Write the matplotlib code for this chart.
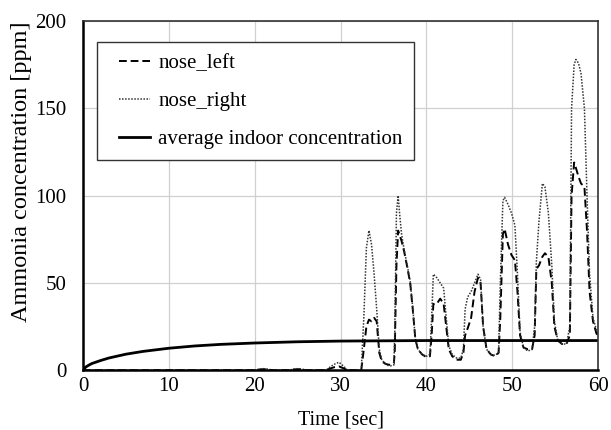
import numpy as np
import matplotlib.pyplot as plt
from matplotlib.legend_handler import HandlerLine2D

plt.rcParams['font.family'] = ['Liberation Serif', 'DejaVu Serif']

# average indoor concentration
t_avg = [0, 0.3, 0.7, 1, 2, 3, 5, 7, 10, 13, 16, 20, 25, 30, 40, 50, 60]
c_avg = [0, 1.8, 3.0, 3.8, 5.5, 7.0, 9.2, 10.8, 12.6, 13.9, 14.8, 15.6, 16.3, 16.7, 17.0, 17.0, 17.0]

# nose sensors (shared time axis)
t_nose = [0, 20, 20.5, 21, 21.5, 22, 24, 24.5, 25, 25.5, 26, 28.3, 28.8, 29.3, 29.8, 30.3, 30.8,
          32.4, 32.7, 33.0, 33.3, 33.6, 33.9, 34.2, 34.5, 34.8, 35.3, 35.8, 36.2,
          36.3, 36.5, 36.7, 36.9, 37.1, 37.4, 37.8, 38.1, 38.4, 38.7, 39.0, 39.5, 40.0, 40.4,
          40.6, 40.8, 41.2, 41.6, 42.0, 42.3, 42.6, 43.0, 43.5, 44.0, 44.3,
          44.5, 44.8, 45.2, 45.6, 46.0, 46.3, 46.6, 47.0, 47.5, 48.0, 48.4,
          48.6, 48.9, 49.1, 49.5, 49.9, 50.3, 50.6, 50.9, 51.3, 51.8, 52.3, 52.6,
          52.8, 53.1, 53.5, 53.8, 54.2, 54.6, 54.9, 55.3, 55.8, 56.3, 56.7,
          56.9, 57.2, 57.4, 57.7, 58.0, 58.4, 58.7, 59.0, 59.4, 59.8, 60]
nose_left = [0, 0, 0.4, 0.6, 0.5, 0, 0, 0.4, 0.6, 0.5, 0, 0, 1.0, 1.8, 2.2, 1.2, 0,
             0, 12, 25, 29, 28, 30, 28, 10, 5, 3.5, 3, 4,
             10, 60, 80, 77, 74, 68, 58, 50, 35, 18, 12, 9, 7.5, 8,
             20, 38, 38, 41, 38, 25, 12, 8, 6, 6, 10,
             20, 24, 30, 45, 53, 50, 25, 12, 9, 8, 10,
             30, 78, 81, 72, 66, 63, 45, 20, 13, 12, 12, 20,
             58, 60, 65, 67, 65, 50, 25, 17, 15, 15, 20,
             100, 119, 116, 111, 107, 105, 80, 45, 28, 21, 20]
nose_right = [0, 0, 0.6, 0.9, 0.7, 0, 0, 0.6, 0.9, 0.7, 0, 0, 2.0, 3.5, 4.6, 2.5, 0,
              0, 30, 70, 80, 72, 55, 35, 12, 6, 3, 2.5, 3,
              20, 90, 100, 88, 78, 69, 59, 51, 36, 18, 12, 9, 8, 9,
              30, 55, 53, 50, 47, 30, 14, 9, 7, 7, 12,
              35, 42, 45, 50, 55, 52, 25, 12, 9, 8.5, 10,
              50, 97, 99, 95, 90, 83, 55, 22, 13, 11, 12, 25,
              62, 85, 107, 105, 90, 60, 28, 17, 15, 15, 25,
              150, 175, 178, 176, 170, 150, 100, 55, 30, 23, 22]

fig = plt.figure(figsize=(6.11, 4.30), dpi=100)
ax = fig.add_axes([0.136, 0.139, 0.843, 0.812])

ax.plot(t_nose, nose_left, color='black', lw=1.4, ls=(0, (4, 2)), label='nose_left')
ax.plot(t_nose, nose_right, color='#333333', lw=1.1, ls=(0, (1, 1)), label='nose_right')
ax.plot(t_avg, c_avg, color='black', lw=2.0, label='average indoor concentration')

ax.set_xlim(0, 60)
ax.set_ylim(0, 200)
ax.set_xticks(range(0, 61, 10))
ax.set_yticks(range(0, 201, 50))
ax.grid(True, color='#d0d0d0', lw=0.9)
ax.set_axisbelow(True)
ax.tick_params(length=0, labelsize=15)
ax.tick_params(axis='x', pad=5)
ax.tick_params(axis='y', pad=12)
for s in ['top', 'right']:
    ax.spines[s].set_color('#333333')
    ax.spines[s].set_linewidth(1.2)
for s in ['left', 'bottom']:
    ax.spines[s].set_color('black')
    ax.spines[s].set_linewidth(1.8)

ax.set_xlabel('Time [sec]', fontsize=14.5, labelpad=10)
ax.set_ylabel('Ammonia concentration [ppm]', fontsize=17.5)
ax.yaxis.set_label_coords(-0.099, 0.569)

leg = ax.legend(loc='upper left', bbox_to_anchor=(0.027, 0.94), fontsize=15,
                fancybox=False, edgecolor='#333333', framealpha=1,
                handlelength=2.0, labelspacing=0.88, borderpad=0.55,
                borderaxespad=0, handletextpad=0.4,
                handler_map={plt.Line2D: HandlerLine2D(xpad=0.52)})
leg.get_frame().set_linewidth(1.0)

fig.savefig('out.png', dpi=100)
